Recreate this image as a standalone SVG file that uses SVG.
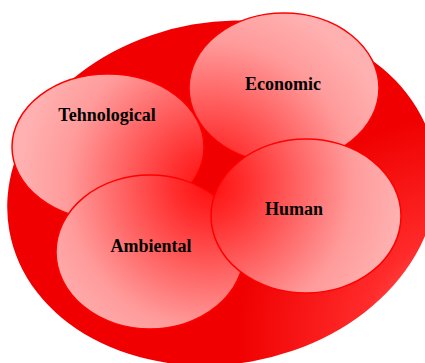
<svg xmlns="http://www.w3.org/2000/svg" width="425" height="363" viewBox="0 0 425 363">
<defs>
<radialGradient id="gBig" gradientUnits="userSpaceOnUse" cx="210" cy="185" r="225">
<stop offset="0" stop-color="#ff8080"/>
<stop offset="0.45" stop-color="#ff2a2a"/>
<stop offset="1" stop-color="#f00000"/>
</radialGradient>
<radialGradient id="gSmall" gradientUnits="userSpaceOnUse" cx="210" cy="185" r="190">
<stop offset="0" stop-color="#ff0f0f"/>
<stop offset="0.2" stop-color="#ff3030"/>
<stop offset="0.75" stop-color="#ff9a9a"/>
<stop offset="1" stop-color="#ffb0b0"/>
</radialGradient>
</defs>
<style>
.c{fill:url(#gSmall);stroke:#ff0000;stroke-width:1.5}
.t{font-family:"Liberation Serif","Times New Roman",serif;font-weight:bold;font-size:18px;fill:#000;text-anchor:middle}
</style>
<g id="background">
<ellipse cx="0" cy="0" rx="216" ry="171" transform="translate(222 193) rotate(-10)" fill="url(#gBig)"/>
</g>
<g id="tehnological">
<ellipse class="c" cx="108" cy="147" rx="96" ry="73"/>
<text class="t" x="107" y="121">Tehnological</text>
</g>
<g id="economic">
<ellipse class="c" cx="284" cy="88" rx="95" ry="75"/>
<text class="t" x="283" y="90">Economic</text>
</g>
<g id="ambiental">
<ellipse class="c" cx="150" cy="252" rx="94" ry="77"/>
<text class="t" x="151" y="252">Ambiental</text>
</g>
<g id="human">
<ellipse class="c" cx="306" cy="216" rx="95" ry="77"/>
<text class="t" x="294" y="215">Human</text>
</g>
<g id="connectors"/>
</svg>
